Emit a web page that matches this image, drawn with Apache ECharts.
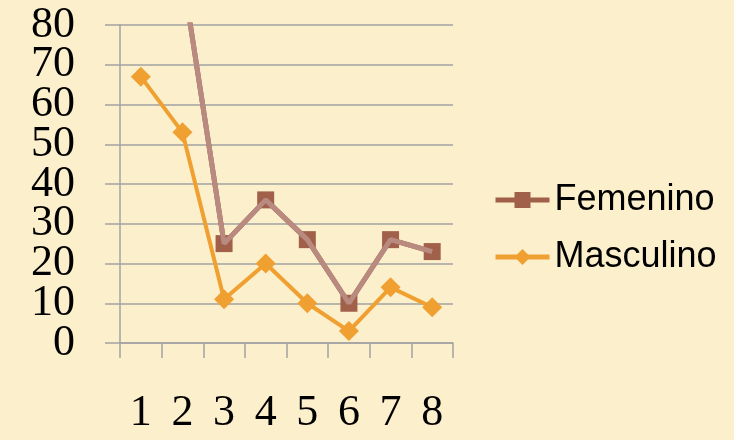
<!DOCTYPE html>
<html>
<head>
<meta charset="utf-8">
<script src="https://cdn.jsdelivr.net/npm/echarts@6/dist/echarts.min.js"></script>
<style>
html,body{margin:0;padding:0;background:#FCEFCB;}
#chart{width:734px;height:440px;}
</style>
</head>
<body>
<div id="chart"></div>
<script>
var categories = ['1','2','3','4','5','6','7','8'];
var femenino = [110, 93, 25, 36, 26, 10, 26, 23];
var masculino = [67, 53, 11, 20, 10, 3, 14, 9];
var yTicks = { min: 0, max: 80, interval: 10 };

var chart = echarts.init(document.getElementById('chart'), null, {renderer: 'canvas'});
var gridColor = '#A2A2A2';
var yLabelFont = { fontFamily: 'Liberation Serif', fontSize: 44, color: '#000' };
function isEnd(v) { return v === yTicks.min || v === yTicks.max; }
chart.setOption({
  backgroundColor: '#FCEFCB',
  animation: false,
  grid: { left: 120, right: 281, top: 25, bottom: 97 },
  legend: {
    orient: 'vertical',
    left: 493,
    top: 180,
    padding: 0,
    itemWidth: 54,
    itemHeight: 20,
    itemGap: 17,
    data: [
      { name: 'Femenino', lineStyle: { width: 5 } },
      { name: 'Masculino', lineStyle: { width: 5 } }
    ],
    textStyle: { fontFamily: 'Liberation Sans', fontSize: 36, color: '#000', lineHeight: 40 }
  },
  xAxis: {
    type: 'category',
    data: categories,
    boundaryGap: true,
    axisLine: { show: true, lineStyle: { color: gridColor, width: 1.5 } },
    axisTick: { show: true, length: 15, inside: false, lineStyle: { color: gridColor, width: 1.5 } },
    axisLabel: { margin: 48, fontFamily: 'Liberation Serif', fontSize: 44, color: '#000', lineHeight: 44 },
    splitLine: { show: false }
  },
  yAxis: [
    {
      type: 'value',
      min: yTicks.min,
      max: yTicks.max,
      interval: yTicks.interval,
      axisLine: { show: true, lineStyle: { color: gridColor, width: 1.5 } },
      axisTick: { show: true, length: 15, lineStyle: { color: gridColor, width: 1.5 } },
      axisLabel: Object.assign({ margin: 45, hideOverlap: false,
        formatter: function (v) { return isEnd(v) ? '' : String(v); } }, yLabelFont),
      splitLine: { show: true, lineStyle: { color: gridColor, width: 1.5 } }
    },
    {
      type: 'value',
      position: 'left',
      min: yTicks.min,
      max: yTicks.max,
      interval: yTicks.interval,
      axisLine: { show: false },
      axisTick: { show: false },
      axisLabel: Object.assign({ margin: 45, hideOverlap: false, showMinLabel: true, showMaxLabel: true,
        formatter: function (v) { return isEnd(v) ? String(v) : ''; } }, yLabelFont),
      splitLine: { show: false }
    }
  ],
  series: [
    {
      name: 'Femenino',
      type: 'line',
      data: femenino,
      z: 2,
      clip: true,
      symbol: 'rect',
      symbolSize: 17,
      showAllSymbol: true,
      itemStyle: { color: '#A0604A' },
      lineStyle: { color: '#A0604A', width: 5 }
    },
    {
      name: 'FemeninoLinea',
      type: 'line',
      data: femenino,
      z: 3,
      clip: true,
      symbol: 'none',
      lineStyle: { color: '#B88A80', width: 5 },
      itemStyle: { color: '#B88A80' }
    },
    {
      name: 'Masculino',
      type: 'line',
      data: masculino,
      z: 4,
      clip: true,
      symbol: 'diamond',
      symbolSize: 20,
      showAllSymbol: true,
      itemStyle: { color: '#F0A030' },
      lineStyle: { color: '#F0A030', width: 4 }
    }
  ]
});
</script>
</body>
</html>
